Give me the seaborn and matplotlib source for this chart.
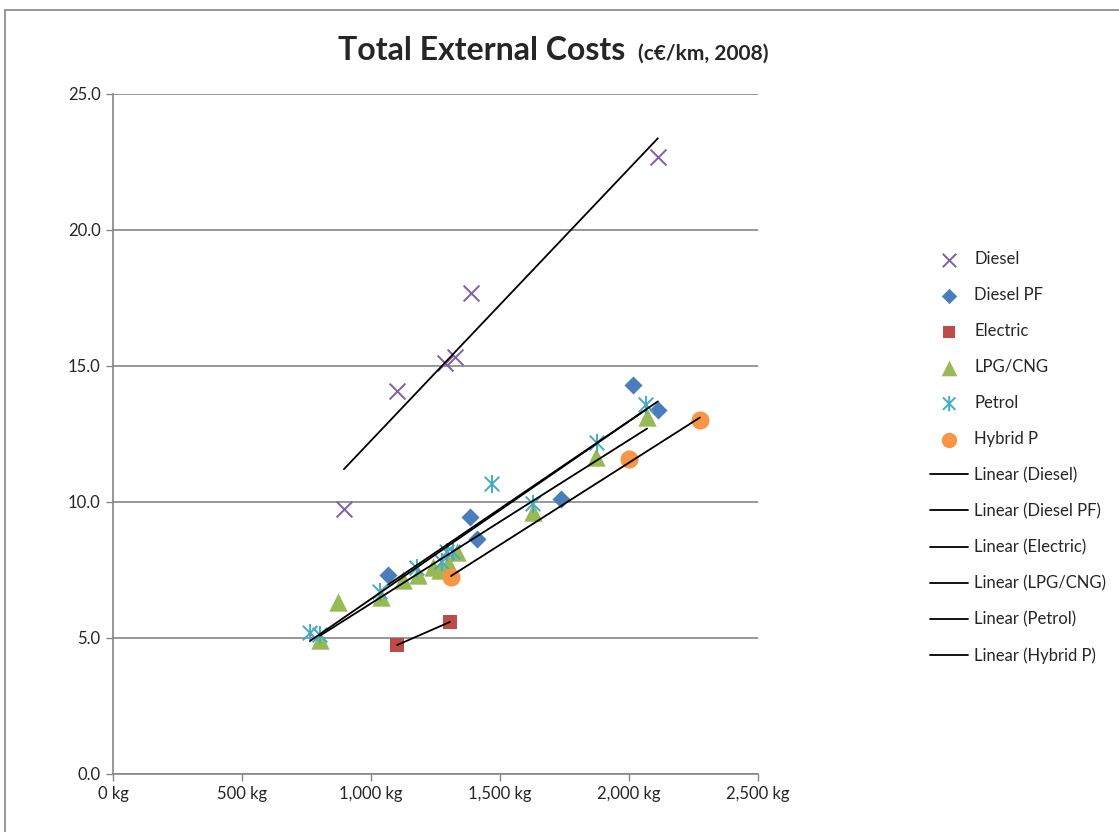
import matplotlib
matplotlib.use("Agg")
import matplotlib.pyplot as plt
import numpy as np
import pandas as pd
import seaborn as sns
from matplotlib.lines import Line2D
from matplotlib.path import Path
from matplotlib.ticker import FuncFormatter, MultipleLocator

# vehicle mass (kg) and total external cost (c€/km, 2008)
diesel_kg = [895, 1101, 1287, 1326, 1388, 2112]
diesel_cost = [9.74, 14.08, 15.11, 15.33, 17.68, 22.68]

diesel_pf_kg = [1066, 1384, 1411, 1736, 2016, 2112]
diesel_pf_cost = [7.32, 9.45, 8.64, 10.11, 14.30, 13.38]

electric_kg = [1101, 1306]
electric_cost = [4.74, 5.59]

lpg_kg = [802, 872, 1039, 1124, 1182, 1240, 1267, 1298, 1333, 1628, 1872, 2070]
lpg_cost = [4.93, 6.32, 6.51, 7.13, 7.32, 7.61, 7.50, 7.76, 8.16, 9.63, 11.65, 13.13]

petrol_kg = [764, 802, 1035, 1178, 1275, 1295, 1318, 1469, 1628, 1876, 2066]
petrol_cost = [5.18, 5.11, 6.69, 7.57, 7.79, 8.16, 8.16, 10.66, 9.93, 12.17, 13.57]

hybrid_kg = [1310, 2000, 2275]
hybrid_cost = [7.24, 11.58, 13.01]

series = ["Diesel", "Diesel PF", "Electric", "LPG/CNG", "Petrol", "Hybrid P"]

# Excel-style asterisk: an x with a vertical bar through it
star = Path(
    [(-0.5, -0.5), (0.5, 0.5), (-0.5, 0.5), (0.5, -0.5), (0, -0.62), (0, 0.62)],
    [Path.MOVETO, Path.LINETO, Path.MOVETO, Path.LINETO, Path.MOVETO, Path.LINETO],
)

styles = {
    "Diesel": dict(color="#7F60A8", marker="x", s=130, lw=1.4),
    "Diesel PF": dict(color="#4A7EBB", marker="D", s=85, lw=0),
    "Electric": dict(color="#BE4B48", marker="s", s=115, lw=0),
    "LPG/CNG": dict(color="#98B954", marker="^", s=175, lw=0),
    "Petrol": dict(color="#46AAC5", marker=star, s=170, lw=1.4),
    "Hybrid P": dict(color="#F79646", marker="o", s=170, lw=0),
}

df = pd.concat(
    [
        pd.DataFrame({"kg": diesel_kg, "cost": diesel_cost, "type": "Diesel"}),
        pd.DataFrame({"kg": diesel_pf_kg, "cost": diesel_pf_cost, "type": "Diesel PF"}),
        pd.DataFrame({"kg": electric_kg, "cost": electric_cost, "type": "Electric"}),
        pd.DataFrame({"kg": lpg_kg, "cost": lpg_cost, "type": "LPG/CNG"}),
        pd.DataFrame({"kg": petrol_kg, "cost": petrol_cost, "type": "Petrol"}),
        pd.DataFrame({"kg": hybrid_kg, "cost": hybrid_cost, "type": "Hybrid P"}),
    ],
    ignore_index=True,
)

sns.set_style("white")
plt.rcParams["font.family"] = ["Lato", "DejaVu Sans"]

fig = plt.figure(figsize=(11.19, 8.32), dpi=100)
ax = fig.add_axes([113 / 1119, 58 / 832, 645 / 1119, 680 / 832])

for name in series:
    st = styles[name]
    sub = df[df["type"] == name]
    # the path-based asterisk counts as "filled", so give it a visible edge
    extra = dict(edgecolor=st["color"], facecolor="none") if name == "Petrol" else {}
    sns.scatterplot(
        data=sub, x="kg", y="cost", ax=ax, marker=st["marker"], s=st["s"],
        color=st["color"], linewidth=st["lw"], label=name, zorder=3, **extra,
    )

for name in series:
    sub = df[df["type"] == name]
    sns.regplot(
        data=sub, x="kg", y="cost", ax=ax, scatter=False, ci=None, truncate=True,
        line_kws=dict(color="black", lw=1.3, zorder=4), label=f"Linear ({name})",
    )

ax.set_xlim(0, 2500)
ax.set_ylim(0, 25)
ax.xaxis.set_major_locator(MultipleLocator(500))
ax.yaxis.set_major_locator(MultipleLocator(5))
ax.xaxis.set_major_formatter(FuncFormatter(lambda v, p: f"{v:,.0f} kg"))
ax.yaxis.set_major_formatter(FuncFormatter(lambda v, p: f"{v:.1f}"))
ax.set_xlabel("")
ax.set_ylabel("")
ax.grid(axis="y", color="#868686", lw=1.2)
ax.grid(axis="x", visible=False)
ax.set_axisbelow(True)
for side in ["top", "right"]:
    ax.spines[side].set_visible(False)
for side in ["left", "bottom"]:
    ax.spines[side].set_color("#868686")
    ax.spines[side].set_linewidth(1.2)
ax.tick_params(axis="both", direction="out", length=5, width=1, color="#868686",
               labelsize=12, pad=4, bottom=True, left=True)

handles, labels = ax.get_legend_handles_labels()
ax.legend(handles, labels, loc="upper left", bbox_to_anchor=(915 / 1119, 1 - 236 / 832),
          bbox_transform=fig.transFigure, frameon=False, fontsize=12,
          handlelength=2.3, handletextpad=0.35, labelspacing=1.2, markerscale=0.85)

fig.text(625 / 1119, 1 - 60 / 832, "Total External Costs", ha="right", va="baseline",
         fontsize=23, fontweight="bold")
fig.text(638 / 1119, 1 - 60 / 832, "(c€/km, 2008)", ha="left", va="baseline",
         fontsize=15, fontweight="bold")

# chart area border
fig.add_artist(Line2D([5 / 1119, 5 / 1119], [0, 1 - 10 / 832], transform=fig.transFigure,
                      color="#868686", lw=1.2))
fig.add_artist(Line2D([5 / 1119, 1], [1 - 10 / 832, 1 - 10 / 832], transform=fig.transFigure,
                      color="#868686", lw=1.2))

fig.savefig("out.png", dpi=100)
